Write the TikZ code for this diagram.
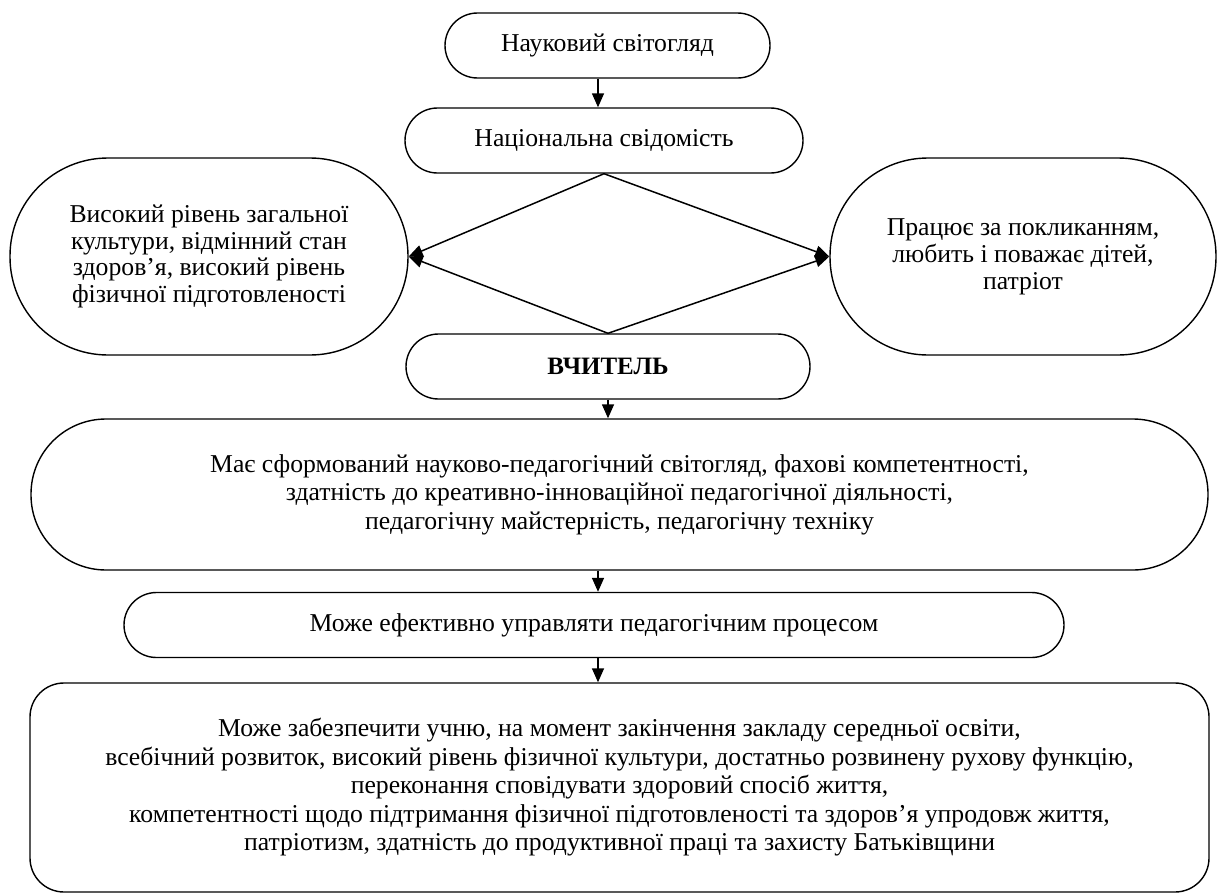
\documentclass[tikz,border=0pt]{standalone}
\usepackage{fontspec}
\setmainfont{Liberation Serif}
\usetikzlibrary{arrows.meta}
\tikzset{
  box/.style={draw, line width=1.4pt, rectangle, inner sep=0pt, align=center,
    font=\fontsize{25.7}{28.5}\selectfont},
  arr/.style={line width=1.5pt, -{Triangle[length=14pt,width=12pt]}},
}
\begin{document}
\begin{tikzpicture}[x=1pt,y=-1pt]
\useasboundingbox[fill=white] (0,0) rectangle (1218,894);
\node[box, minimum width=325pt, minimum height=65pt, rounded corners=32.5pt] (n1) at (607.5,45.5) {Науковий світогляд};
\node[box, minimum width=398pt, minimum height=65pt, rounded corners=32.5pt] (n2) at (604,140.5) {Національна свідомість};
\node[box, minimum width=398pt, minimum height=197pt, rounded corners=98pt, font=\fontsize{25.7}{26.5}\selectfont] (L) at (209,256.5) {Високий рівень загальної\\культури, відмінний стан\\здоров’я, високий рівень\\фізичної підготовленості};
\node[box, minimum width=386pt, minimum height=197pt, rounded corners=98pt, font=\fontsize{25.7}{27}\selectfont] (R) at (1023,256.5) {Працює за покликанням,\\любить і поважає дітей,\\патріот};
\node[box, minimum width=404pt, minimum height=65pt, rounded corners=32.5pt, font=\fontsize{25}{28.5}\selectfont\bfseries] (n3) at (608,366.5) {ВЧИТЕЛЬ};
\node[box, minimum width=1177pt, minimum height=151pt, rounded corners=75pt] (n4) at (619.5,494.5) {Має сформований науково-педагогічний світогляд, фахові компетентності,\\здатність до креативно-інноваційної педагогічної діяльності,\\педагогічну майстерність, педагогічну техніку};
\node[box, minimum width=940pt, minimum height=65pt, rounded corners=32.5pt] (n5) at (594,625) {Може ефективно управляти педагогічним процесом};
\node[box, minimum width=1179pt, minimum height=209pt, rounded corners=34pt] (n6) at (619.5,787.5) {Може забезпечити учню, на момент закінчення закладу середньої освіти,\\всебічний розвиток, високий рівень фізичної культури, достатньо розвинену рухову функцію,\\переконання сповідувати здоровий спосіб життя,\\компетентності щодо підтримання фізичної підготовленості та здоров’я упродовж життя,\\патріотизм, здатність до продуктивної праці та захисту Батьківщини};
\coordinate (ax) at (598,0);
\draw[arr] (n1.south -| ax) -- (n2.north -| ax);
\draw[arr] (n2.south) -- (L.east);
\draw[arr] (n3.north) -- (L.east);
\draw[arr] (n2.south) -- (R.west);
\draw[arr] (n3.north) -- (R.west);
\draw[arr] (n3.south) -- (n4.north -| n3.south);
\draw[arr] (n4.south -| ax) -- (n5.north -| ax);
\draw[arr] (n5.south -| ax) -- (n6.north -| ax);
\end{tikzpicture}
\end{document}
